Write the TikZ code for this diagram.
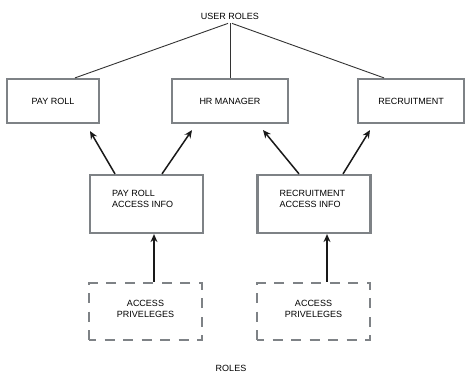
\documentclass[tikz,border=0pt]{standalone}
\usepackage{fontspec}
\setmainfont{Liberation Sans}
\usetikzlibrary{arrows.meta}
\definecolor{boxgray}{HTML}{7E8286}
\definecolor{linegray}{HTML}{333333}
\tikzset{
  rolebox/.style={draw=boxgray, line width=2.2pt, minimum height=44pt, inner sep=0pt},
  infobox/.style={draw=boxgray, line width=2.2pt, minimum width=113pt, minimum height=58pt, inner sep=0pt},
  privbox/.style={draw=boxgray, line width=2.5pt, dash pattern=on 10pt off 8.5pt, dash phase=3pt, minimum width=113pt, minimum height=57pt, inner sep=0pt},
  lbl/.style={font=\fontsize{9}{11}\selectfont, inner sep=0pt},
  tree/.style={draw=linegray, line width=0.9pt},
  uparrow/.style={draw=black!90, line width=1.5pt, -{Stealth[length=8pt,width=7pt]}}
}
\begin{document}
\begin{tikzpicture}[x=1pt,y=-1pt]
  \useasboundingbox (0,0) rectangle (465,374);

  % top of the hierarchy
  \node[lbl] (ur) at (230,16) {USER ROLES};

  % role boxes
  \node[rolebox, minimum width=92pt] (pr) at (53,101) {};
  \node[lbl] (prt) at (pr.center) {PAY ROLL};
  \node[rolebox, minimum width=116pt] (hr) at (230,101) {};
  \node[lbl] (hrt) at (hr.center) {HR MANAGER};
  \node[rolebox, minimum width=106pt] (rc) at (411,101) {};
  \node[lbl] (rct) at (rc.center) {RECRUITMENT};

  % access info boxes
  \node[infobox] (pai) at (146.5,204) {};
  \node[lbl, align=left, anchor=west] (pait) at ([xshift=23pt,yshift=5pt]pai.west) {PAY ROLL\\ACCESS INFO};
  \node[infobox] (rai) at (314,204) {};
  \node[lbl, align=left, anchor=west] (rait) at ([xshift=23pt,yshift=5pt]rai.west) {RECRUITMENT\\ACCESS INFO};

  % privilege boxes
  \node[privbox] (pp) at (145.5,311.5) {};
  \node[lbl, align=center] (ppt) at ([yshift=3pt]pp.center) {ACCESS\\PRIVELEGES};
  \node[privbox] (rp) at (313.5,311.5) {};
  \node[lbl, align=center] (rpt) at ([yshift=3pt]rp.center) {ACCESS\\PRIVELEGES};

  \node[lbl] (roles) at (231,368) {ROLES};

  % tree lines
  \draw[tree] ([xshift=-2pt,yshift=-4pt]ur.south) -- ([xshift=22pt]pr.north);
  \draw[tree] ([yshift=-4pt]ur.south) -- (hr.north);
  \draw[tree] ([xshift=2pt,yshift=-4pt]ur.south) -- ([xshift=-27pt]rc.north);

  % access arrows
  \draw[uparrow] ([xshift=-31.5pt]pai.north) -- ([xshift=37pt,yshift=-7pt]pr.south);
  \draw[uparrow] ([xshift=15.5pt]pai.north) -- ([xshift=-38pt,yshift=-6pt]hr.south);
  \draw[uparrow] ([xshift=-15pt]rai.north) -- ([xshift=33pt,yshift=-6pt]hr.south);
  \draw[uparrow] ([xshift=29pt]rai.north) -- ([xshift=-41pt,yshift=-6pt]rc.south);
  \draw[uparrow] ([xshift=8.5pt]pp.north) -- ([xshift=7.5pt]pai.south);
  \draw[uparrow] ([xshift=13.5pt]rp.north) -- ([xshift=13pt]rai.south);
\end{tikzpicture}
\end{document}
